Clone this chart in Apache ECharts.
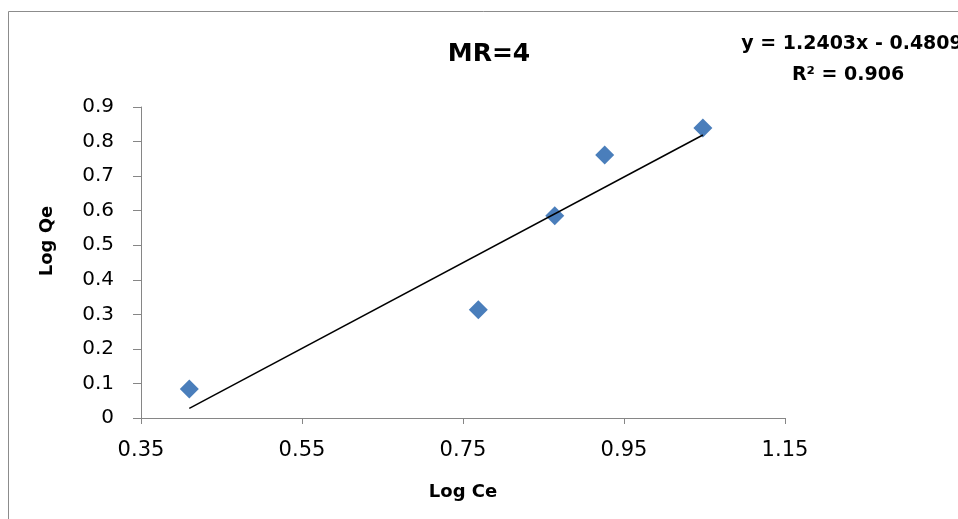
<!DOCTYPE html>
<html>
<head>
<meta charset="utf-8">
<script src="https://cdn.jsdelivr.net/npm/echarts@6/dist/echarts.min.js"></script>
<style>html,body{margin:0;padding:0;background:#fff}#c{width:958px;height:519px}</style>
</head>
<body>
<div id="c"></div>
<script>
// Data
var logCe = [0.410, 0.769, 0.864, 0.926, 1.048];
var logQe = [0.084, 0.313, 0.585, 0.761, 0.839];
// Trendline as printed on the chart: y = 1.2403x - 0.4809, R² = 0.906
var trendSlope = [1.2403];
var trendIntercept = [-0.4809];
var xTicks = [0.35, 0.55, 0.75, 0.95, 1.15];
var yTicks = [0, 0.1, 0.2, 0.3, 0.4, 0.5, 0.6, 0.7, 0.8, 0.9];

var points = logCe.map(function (x, i) { return [x, logQe[i]]; });
var xMin = Math.min.apply(null, logCe), xMax = Math.max.apply(null, logCe);
var trend = [xMin, xMax].map(function (x) { return [x, trendSlope[0] * x + trendIntercept[0]]; });

var chart = echarts.init(document.getElementById('c'), null, {renderer: 'canvas'});
var axisColor = '#868686';
chart.setOption({
  animation: false,
  backgroundColor: '#fff',
  grid: {left: 141, top: 107, right: 173, bottom: 101, containLabel: false},
  xAxis: {
    type: 'value', min: xTicks[0], max: xTicks[xTicks.length - 1], interval: 0.2,
    axisLine: {show: true, onZero: false, lineStyle: {color: axisColor, width: 1}},
    axisTick: {show: true, length: 6, lineStyle: {color: axisColor}},
    splitLine: {show: false},
    axisLabel: {margin: 22, fontFamily: 'DejaVu Sans', fontSize: 21, color: '#000',
      formatter: function (v) { return v.toFixed(2); }}
  },
  yAxis: {
    type: 'value', min: yTicks[0], max: yTicks[yTicks.length - 1], interval: 0.1,
    axisLine: {show: true, lineStyle: {color: axisColor, width: 1}},
    axisTick: {show: true, length: 8, lineStyle: {color: axisColor}},
    splitLine: {show: false},
    axisLabel: {margin: 27, fontFamily: 'DejaVu Sans', fontSize: 20, color: '#000',
      formatter: function (v) { return v === 0 ? '0' : String(Math.round(v * 10) / 10); }}
  },
  series: [
    {
      type: 'line', data: trend, showSymbol: false, symbol: 'none',
      lineStyle: {color: '#000', width: 1.5}, z: 3, silent: true
    },
    {
      type: 'scatter', data: points, symbol: 'diamond', symbolSize: 19,
      itemStyle: {color: '#4A7EBB', opacity: 1}, z: 2
    }
  ],
  graphic: [
    {type: 'rect', shape: {x: 8.5, y: 11.5, width: 1000, height: 600}, style: {fill: null, stroke: '#8c8c8c', lineWidth: 1}, silent: true},
    {type: 'text', x: 489, y: 54, style: {text: 'MR=4', font: 'bold 25px "DejaVu Sans"', fill: '#000', textAlign: 'center', textVerticalAlign: 'middle'}},
    {type: 'text', x: 852, y: 44, style: {text: 'y = 1.2403x - 0.4809', font: 'bold 19px "DejaVu Sans"', fill: '#000', textAlign: 'center', textVerticalAlign: 'middle'}},
    {type: 'text', x: 848, y: 75, style: {text: 'R² = 0.906', font: 'bold 19px "DejaVu Sans"', fill: '#000', textAlign: 'center', textVerticalAlign: 'middle'}},
    {type: 'text', x: 463, y: 492, style: {text: 'Log Ce', font: 'bold 18px "DejaVu Sans"', fill: '#000', textAlign: 'center', textVerticalAlign: 'middle'}},
    {type: 'text', x: 47, y: 241, rotation: Math.PI / 2, style: {text: 'Log Qe', font: 'bold 18px "DejaVu Sans"', fill: '#000', textAlign: 'center', textVerticalAlign: 'middle'}}
  ]
});
</script>
</body>
</html>
